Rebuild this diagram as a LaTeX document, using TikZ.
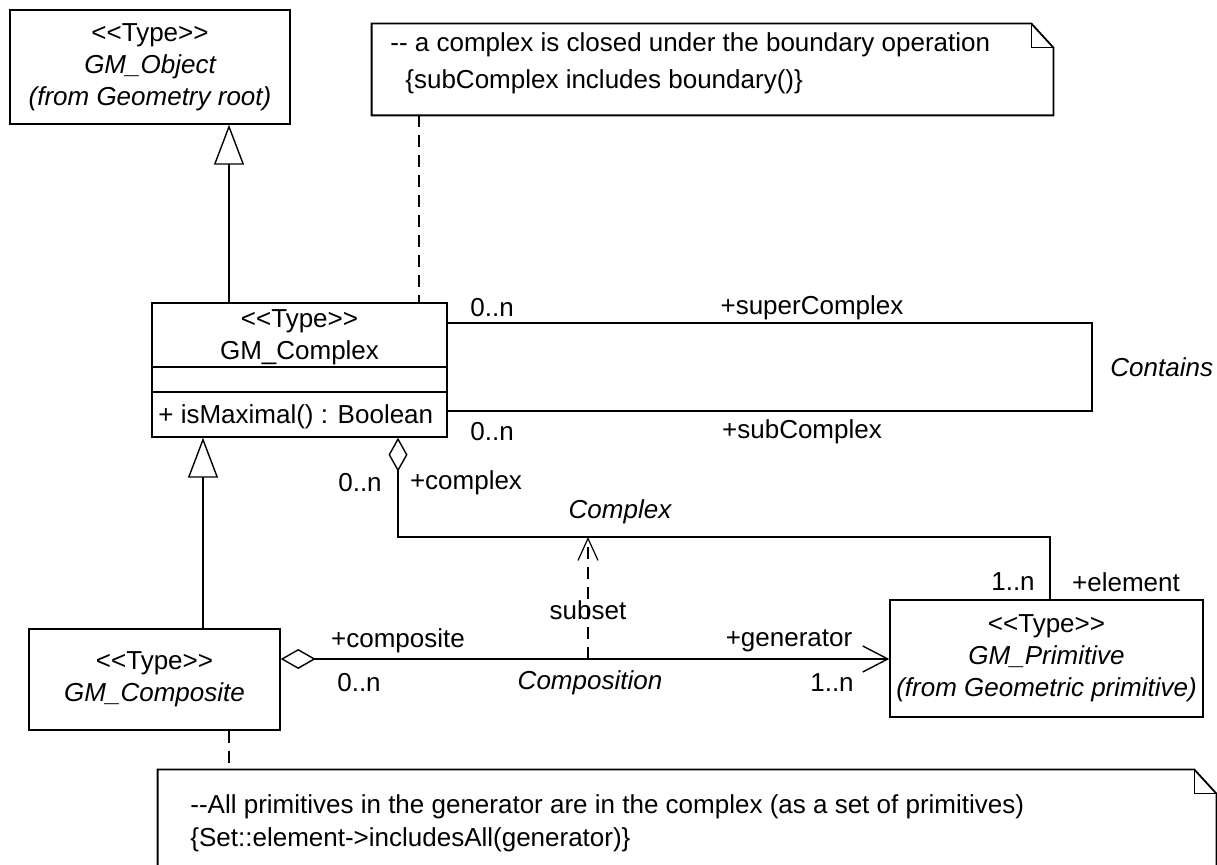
\documentclass[tikz,border=0pt]{standalone}
\usepackage{fontspec}
\newfontfamily\umlfont{Liberation Sans}
\usetikzlibrary{arrows.meta}
\begin{document}
\begin{tikzpicture}[
    x=0.5pt, y=-0.5pt,
    every node/.style={font=\umlfont\fontsize{13}{16}\selectfont, inner sep=0pt},
    cls/.style={draw, line width=0.7pt, align=center},
    frame/.style={line width=0.7pt},
    notebox/.style={line width=0.9pt},
    gen/.style={-{Triangle[open, length=20pt, width=15pt]}, line width=0.7pt},
    agg/.style={{Diamond[open, length=17pt, width=9.5pt]}-, line width=0.7pt},
    compo/.style={{Diamond[open, length=17.5pt, width=10pt]}-{Straight Barb[length=12.5pt, width=13pt]}, line width=0.7pt},
    dep/.style={-{Straight Barb[length=11pt, width=10pt]}, dash pattern=on 6pt off 4pt, line width=0.6pt},
    link/.style={dash pattern=on 6pt off 4pt, line width=0.6pt}
  ]
  \useasboundingbox (0,0) rectangle (1217,865);
  \clip (0,0) rectangle (1217,865);

  % classes
  \node[cls, minimum width=140pt, minimum height=57pt] (obj) at (150,67)
    {<<Type>>\\{\itshape GM\_Object}\\{\itshape (from Geometry root)}};
  \node[cls, minimum width=147.5pt, minimum height=67pt] (cplx) at (299.5,370) {};
  \node[align=center] (cplxname) at (299.5,337) {<<Type>>\\GM\_Complex};
  \node[anchor=west] (cplxop) at (158,417) {+ isMaximal() : Boolean};
  \draw[frame] (cplx.west |- 0,367) -- (cplx.east |- 0,367);
  \draw[frame] (cplx.west |- 0,392) -- (cplx.east |- 0,392);
  \node[cls, minimum width=125.5pt, minimum height=50.5pt] (comp) at (154.5,679.5)
    {<<Type>>\\{\itshape GM\_Composite}};
  \node[cls, minimum width=156.5pt, minimum height=58.5pt] (prim) at (1046.5,658.5)
    {<<Type>>\\{\itshape GM\_Primitive}\\{\itshape (from Geometric primitive)}};

  % notes
  \node[minimum width=340.5pt, minimum height=45.5pt] (note1) at (712.5,69.5) {};
  \node[anchor=west] (note1a) at (390,45) {-{}- a complex is closed under the boundary operation};
  \node[anchor=west] (note1b) at (405,82) {\{subComplex includes boundary()\}};
  \draw[notebox] (note1.south west) -- (note1.north west) -- ([xshift=-11pt]note1.north east)
    -- ([yshift=-12pt]note1.north east) -- (note1.south east) -- cycle;
  \draw[notebox] ([xshift=-11pt]note1.north east) |- ([yshift=-12pt]note1.north east);

  \node[minimum width=529pt, minimum height=60pt] (note2) at (687,830) {};
  \node[anchor=west] (note2a) at (190,807) {-{}-All primitives in the generator are in the complex (as a set of primitives)};
  \node[anchor=west] (note2b) at (190,840) {\{Set::element->includesAll(generator)\}};
  \draw[notebox] (note2.south west) -- (note2.north west) -- ([xshift=-11pt]note2.north east)
    -- ([yshift=-12pt]note2.north east) -- (note2.south east) -- cycle;
  \draw[notebox] ([xshift=-11pt]note2.north east) |- ([yshift=-12pt]note2.north east);

  % generalizations
  \coordinate (g1) at (229,0);
  \coordinate (g2) at (203,0);
  \draw[gen] (g1 |- cplx.north) -- (g1 |- obj.south);
  \draw[gen] (g2 |- comp.north) -- (g2 |- cplx.south);

  % Contains
  \coordinate (ct) at (1092,323);
  \coordinate (cb) at (1092,411);
  \draw[frame] (cplx.east |- ct) -- (ct) -- (cb) -- (cplx.east |- cb);
  \node[anchor=west] (supm) at (470,308) {0..n};
  \node (supr) at (812,308) {+superComplex};
  \node[anchor=west] (subm) at (470,432) {0..n};
  \node (subr) at (802,432) {+subComplex};
  \node[anchor=west, font=\umlfont\fontsize{13}{16}\selectfont\itshape] (contains) at (1110,367) {Contains};

  % Complex
  \coordinate (ag) at (398,537);
  \coordinate (el) at (1050,537);
  \draw[agg] (ag |- cplx.south) -- (ag) -- (el) -- (el |- prim.north);
  \node (cxm) at (360,483) {0..n};
  \node (cxr) at (466,483) {+complex};
  \node[font=\umlfont\fontsize{13}{16}\selectfont\itshape] (cxname) at (620,512) {Complex};
  \node (elm) at (1013,582) {1..n};
  \node (elr) at (1126,582) {+element};

  % Composition
  \coordinate (cp) at (0,659);
  \draw[compo] (comp.east |- cp) -- (prim.west |- cp);
  \node (cpr) at (398,641) {+composite};
  \node (cpm) at (359,683) {0..n};
  \node[font=\umlfont\fontsize{13}{16}\selectfont\itshape] (cpname) at (590,683) {Composition};
  \node (gnr) at (789,641) {+generator};
  \node (gnm) at (832,683) {1..n};

  % subset
  \coordinate (ss) at (588,0);
  \draw[dep] (ss |- cp) -- node[pos=0.4] (subset) {subset} (ss |- ag);

  % note links
  \coordinate (lk1) at (419,0);
  \coordinate (lk2) at (229,0);
  \draw[link] (lk1 |- note1.south) -- (lk1 |- cplx.north);
  \draw[link] (lk2 |- comp.south) -- (lk2 |- note2.north);
\end{tikzpicture}
\end{document}
